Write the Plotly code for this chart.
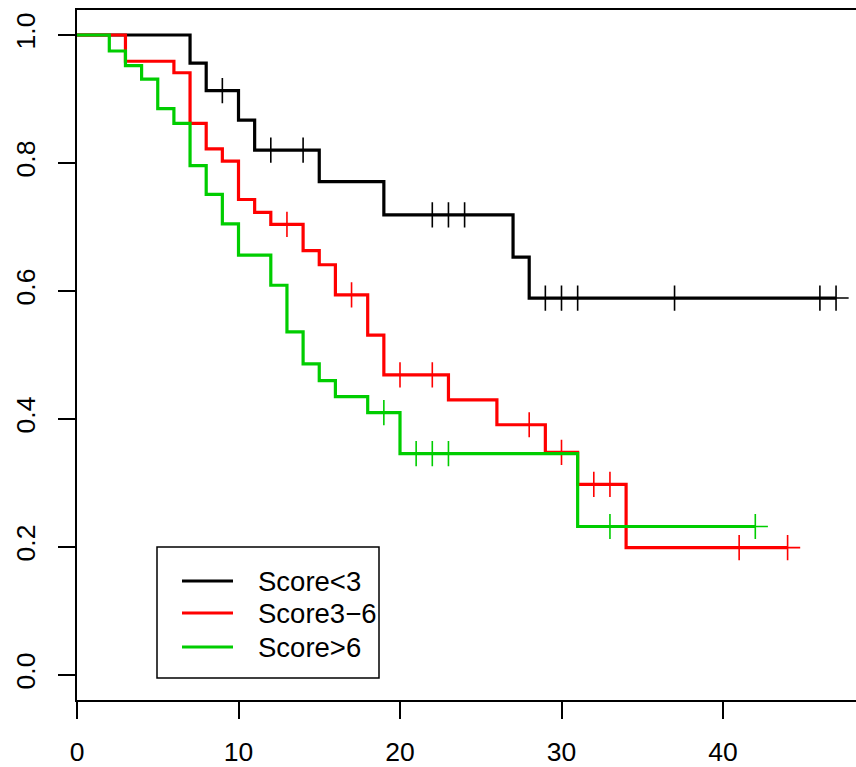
import plotly.graph_objects as go

# ---- data ----
groups = ["Score<3", "Score3\u22126", "Score>6"]
colors = ["#000000", "#FF0000", "#00CD00"]

black_times = [7, 8, 10, 11, 15, 19, 27, 28]
black_surv = [0.956, 0.913, 0.867, 0.820, 0.771, 0.719, 0.653, 0.589]
black_cens = [9, 12, 14, 22, 23, 24, 29, 30, 31, 37, 46, 47]

red_times = [3, 6, 7, 8, 9, 10, 11, 12, 14, 15, 16, 18, 19, 23, 26, 29, 31, 34]
red_surv = [0.959, 0.941, 0.862, 0.822, 0.803, 0.743, 0.723, 0.704, 0.663, 0.641,
            0.594, 0.531, 0.469, 0.430, 0.391, 0.348, 0.298, 0.199]
red_cens = [13, 17, 20, 22, 28, 30, 32, 33, 41, 44]

green_times = [2, 3, 4, 5, 6, 7, 8, 9, 10, 12, 13, 14, 15, 16, 18, 20, 31]
green_surv = [0.975, 0.952, 0.931, 0.885, 0.862, 0.796, 0.751, 0.705, 0.656, 0.609,
              0.536, 0.486, 0.460, 0.435, 0.410, 0.346, 0.232]
green_cens = [19, 21, 22, 23, 33, 42]

x_ticks = [0, 10, 20, 30, 40]
y_ticks = [0.0, 0.2, 0.4, 0.6, 0.8, 1.0]
y_tick_labels = ["0.0", "0.2", "0.4", "0.6", "0.8", "1.0"]

series = [
    (black_times, black_surv, black_cens),
    (red_times, red_surv, red_cens),
    (green_times, green_surv, green_cens),
]

W, H = 856, 767
L, T, R, B = 77, 10, 856, 700  # plot area in px

FONT = "Liberation Sans, Arial, Helvetica, sans-serif"


def step_value(times, surv, t):
    v = 1.0
    for ti, si in zip(times, surv):
        if ti <= t:
            v = si
    return v


fig = go.Figure()
for (times, surv, cens), name, col in zip(series, groups, colors):
    end = max(max(cens), max(times))
    xs = [0] + list(times) + [end]
    ys = [1.0] + list(surv) + [surv[-1]]
    fig.add_trace(go.Scatter(x=xs, y=ys, mode="lines", line=dict(color=col, width=3.2, shape="hv"),
                             name=name, showlegend=False, hoverinfo="skip"))
    fig.add_trace(go.Scatter(x=cens, y=[step_value(times, surv, c) for c in cens], mode="markers",
                             marker=dict(symbol="cross-thin", size=18, line=dict(color=col, width=1.6)),
                             showlegend=False, hoverinfo="skip"))


def px2x(p):
    return (p - L) / (R - L)


def px2y(p):
    return (B - p) / (B - T)


shapes = [
    dict(type="rect", xref="paper", yref="paper", x0=px2x(157), x1=px2x(379), y0=px2y(678), y1=px2y(547),
         line=dict(color="black", width=1.5), fillcolor="white", layer="above"),
]
annotations = []
leg_y = [581, 613, 647]
for name, col, py in zip(groups, colors, leg_y):
    shapes.append(dict(type="line", xref="paper", yref="paper", x0=px2x(182), x1=px2x(233),
                       y0=px2y(py), y1=px2y(py), line=dict(color=col, width=3.2), layer="above"))
    annotations.append(dict(xref="paper", yref="paper", x=px2x(256), y=px2y(py), text=name,
                            showarrow=False, xanchor="left", yanchor="middle",
                            font=dict(family=FONT, size=27.5, color="black")))

xmax = (R - L) / 16.15
fig.update_layout(
    width=W, height=H,
    margin=dict(l=L, r=W - R, t=T, b=H - B, pad=0),
    paper_bgcolor="white", plot_bgcolor="white",
    font=dict(family=FONT, size=26.5, color="black"),
    shapes=shapes, annotations=annotations,
    xaxis=dict(range=[0, xmax], tickvals=x_ticks, ticktext=[str(v) for v in x_ticks],
               showgrid=False, zeroline=False, showline=True, linecolor="black", linewidth=1.5,
               mirror=True, ticks="outside", ticklen=17, tickwidth=1.5, tickcolor="black",
               ticklabelstandoff=10, automargin=False),
    yaxis=dict(range=[-25 / 640, 1 + 25 / 640], tickvals=y_ticks, ticktext=y_tick_labels,
               showgrid=False, zeroline=False, showline=True, linecolor="black", linewidth=1.5,
               mirror=False, ticks="outside", ticklen=17, tickwidth=1.5, tickcolor="black",
               tickangle=-90, ticklabelstandoff=13, automargin=False),
)

fig.write_html("out.html", config={"displayModeBar": False},
               post_script="document.body.style.margin='0px';document.body.style.overflow='hidden';")
